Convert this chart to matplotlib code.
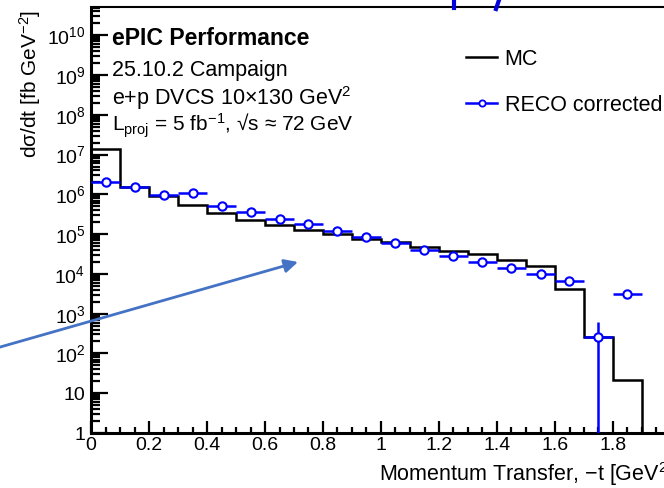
import numpy as np
import matplotlib
matplotlib.use("Agg")
import matplotlib.pyplot as plt
from matplotlib.ticker import FixedLocator, LogLocator, NullFormatter, FuncFormatter, MultipleLocator
from matplotlib.lines import Line2D

plt.rcParams["font.family"] = ["Liberation Sans", "DejaVu Sans"]
plt.rcParams["mathtext.fontset"] = "custom"
plt.rcParams["mathtext.rm"] = "Liberation Sans"
plt.rcParams["mathtext.it"] = "Liberation Sans:italic"
plt.rcParams["mathtext.bf"] = "Liberation Sans:bold"

W, H = 664, 488

# MC histogram (bin edges in -t, GeV^2)
mc_edges = [0.0, 0.1, 0.2, 0.3, 0.4, 0.5, 0.6, 0.7, 0.8, 0.9, 1.0,
            1.1, 1.2, 1.3, 1.4, 1.5, 1.6, 1.7, 1.8, 1.9]
mc_values = [1.35e7, 1.5e6, 9.1e5, 5.4e5, 3.4e5, 2.24e5, 1.72e5, 1.3e5, 9.8e4, 7.4e4,
             6.2e4, 4.8e4, 3.8e4, 3.1e4, 2.3e4, 1.6e4, 4.1e3, 253, 21.5]

# RECO corrected points
reco_x = [0.05, 0.15, 0.25, 0.35, 0.45, 0.55, 0.65, 0.75, 0.85, 0.95,
          1.05, 1.15, 1.25, 1.35, 1.45, 1.55, 1.65, 1.75, 1.85]
reco_y = [2.05e6, 1.5e6, 9.5e5, 1.1e6, 5.0e5, 3.6e5, 2.4e5, 1.75e5, 1.19e5, 8.6e4,
          6.1e4, 4.0e4, 2.8e4, 1.95e4, 1.38e4, 9.7e3, 6.6e3, 253, 3.2e3]
reco_xerr = [0.05] * 19
reco_err_lo = [0] * 17 + [252.999, 0]
reco_err_hi = [0] * 17 + [377, 0]

y_major = [1, 10, 1e2, 1e3, 1e4, 1e5, 1e6, 1e7, 1e8, 1e9, 1e10]


def px(x, y):
    return x / W, 1 - y / H


fig = plt.figure(figsize=(W / 100, H / 100), dpi=100)
ax = fig.add_axes([91 / W, 55 / H, 580 / W, 425.5 / H])

ax.stairs(mc_values, mc_edges, baseline=1e-3, color="black", lw=1.8)
ax.errorbar(reco_x, reco_y, xerr=reco_xerr, yerr=[reco_err_lo, reco_err_hi],
            fmt="o", color="blue", mfc="white", mec="blue", ms=6, mew=1.5,
            elinewidth=1.8, capsize=0, zorder=3)

ax.set_yscale("log")
ax.set_xlim(0, 2.0)
ax.set_ylim(1, 5e10)

ax.yaxis.set_major_locator(FixedLocator(y_major))
ax.yaxis.set_minor_locator(LogLocator(base=10, subs=np.arange(2, 10), numticks=100))
ax.yaxis.set_minor_formatter(NullFormatter())


def ylab(v, pos):
    e = int(round(np.log10(v)))
    if e == 0:
        return "1"
    if e == 1:
        return "10"
    return "$10^{%d}$" % e


ax.yaxis.set_major_formatter(FuncFormatter(ylab))
ax.xaxis.set_major_locator(MultipleLocator(0.2))
ax.xaxis.set_minor_locator(MultipleLocator(0.05))
ax.xaxis.set_major_formatter(FuncFormatter(lambda v, p: ("%.1f" % v).rstrip("0").rstrip(".") if v else "0"))

ax.tick_params(axis="both", which="both", direction="in", top=False, right=False, width=1.6, labelsize=14)
ax.tick_params(axis="y", which="major", length=12, pad=4)
ax.tick_params(axis="y", which="minor", length=6.5)
ax.tick_params(axis="x", which="major", length=8.6, pad=3)
ax.tick_params(axis="x", which="minor", length=4.3)
for s in ["left", "bottom"]:
    ax.spines[s].set_linewidth(2.2)
ax.spines["top"].set_linewidth(1.5)
ax.spines["right"].set_visible(False)

# labels
fig.text(*px(30, 10), "d\u03c3/dt [fb GeV$^{-2}$]", rotation=90, ha="center", va="top", fontsize=15)
fig.text(*px(379, 474), "Momentum Transfer, \u2212t [GeV$^{2}$]", ha="left", va="center", fontsize=15.5)

# info block
fig.text(*px(112, 45), "ePIC Performance", fontsize=16.6, fontweight="bold", va="baseline")
fig.text(*px(112, 76), "25.10.2 Campaign", fontsize=15.5, va="baseline")
fig.text(*px(112, 105), "e+p DVCS 10\u00d7130 GeV$^{2}$", fontsize=15.5, va="baseline")
fig.text(*px(112, 131), "L$_{\\mathrm{proj}}$ = 5 fb$^{-1}$, \u221as \u2248 72 GeV", fontsize=15, va="baseline")

handles = [Line2D([], [], color="black", lw=1.8),
           Line2D([], [], color="blue", lw=1.8, marker="o", ms=4.5, mfc="white", mec="blue", mew=1.3)]
fig.legend(handles, ["MC", "RECO corrected"], loc="upper left", bbox_to_anchor=px(466, 49),
           frameon=False, fontsize=15.5, handlelength=1.45, handletextpad=0.35,
           labelspacing=1.15, borderpad=0, borderaxespad=0)

# slide annotations
ax.annotate("", xy=px(298, 262), xytext=px(-5, 348.5), xycoords="figure fraction",
            textcoords="figure fraction", annotation_clip=False,
            arrowprops=dict(arrowstyle="-|>", color="#4472C4", lw=2, mutation_scale=20,
                            shrinkA=0, shrinkB=0))
fig.add_artist(Line2D([454 / W, 454 / W], [1, 1 - 8 / H], color="#0000DD", lw=3))
fig.add_artist(Line2D([499 / W, 496 / W], [1, 1 - 9 / H], color="#0000DD", lw=3))

fig.savefig("out.png", dpi=100)
